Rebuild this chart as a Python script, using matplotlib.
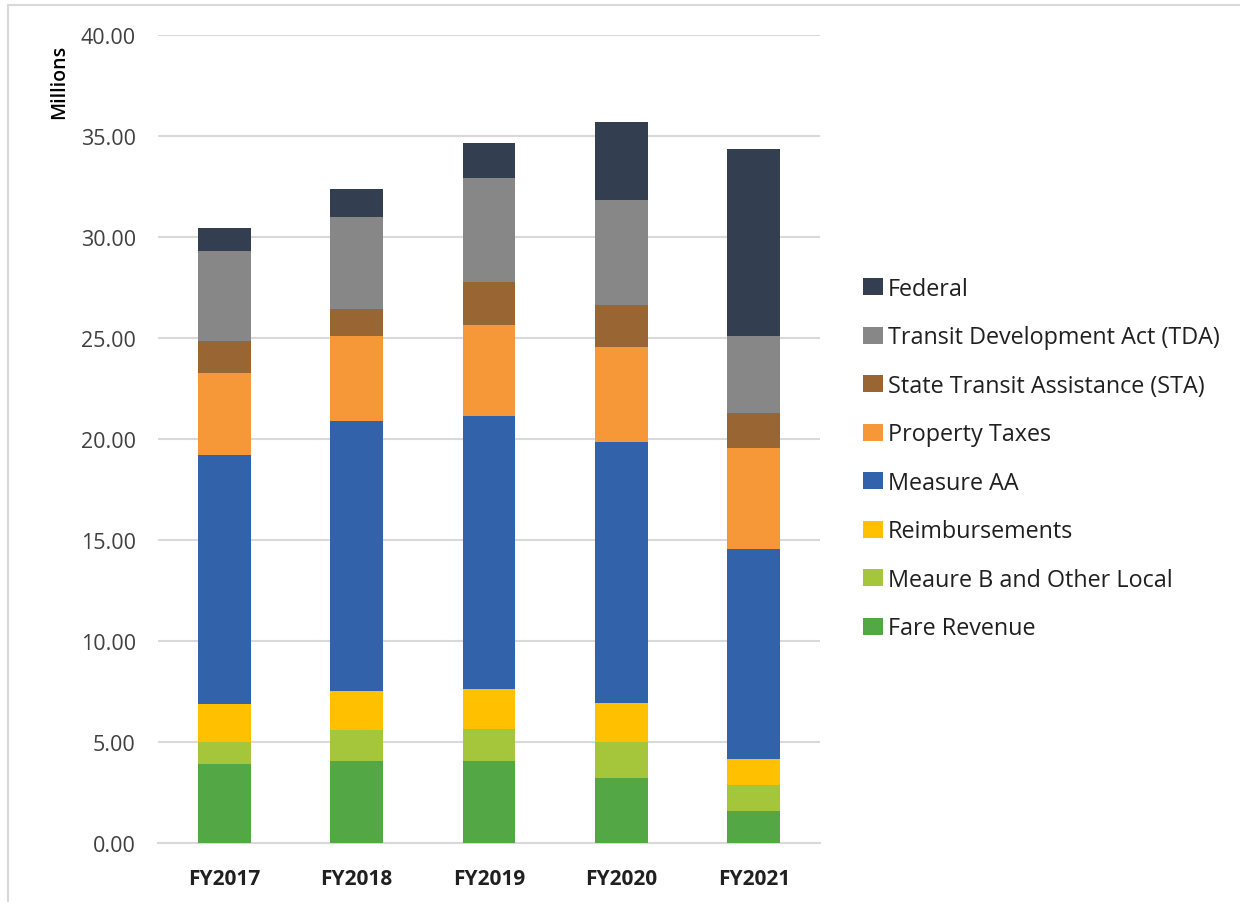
import numpy as np
import matplotlib
matplotlib.use('Agg')
import matplotlib.pyplot as plt
from matplotlib.patches import Rectangle

years = ['FY2017', 'FY2018', 'FY2019', 'FY2020', 'FY2021']
series_names = ['Fare Revenue', 'Meaure B and Other Local', 'Reimbursements',
                'Measure AA', 'Property Taxes', 'State Transit Assistance (STA)',
                'Transit Development Act (TDA)', 'Federal']
fare = [3.93, 4.06, 4.06, 3.23, 1.60]
measure_b = [1.07, 1.51, 1.58, 1.77, 1.25]
reimb = [1.87, 1.97, 1.97, 1.92, 1.30]
measure_aa = [12.35, 13.33, 13.53, 12.95, 10.40]
property_tax = [4.06, 4.24, 4.49, 4.68, 5.02]
sta = [1.59, 1.33, 2.14, 2.10, 1.73]
tda = [4.42, 4.56, 5.15, 5.20, 3.78]
federal = [1.16, 1.36, 1.71, 3.84, 9.30]
colors = ['#54A745', '#A5C63B', '#FFC000', '#3162AA', '#F79838', '#996633',
          '#878787', '#333F50']

plt.rcParams['font.family'] = ['Open Sans', 'DejaVu Sans']

fig = plt.figure(figsize=(12.4, 9.03), dpi=100)
ax = fig.add_axes([158/1240, 1-844/903, (820-158)/1240, (844-36)/903])

x = np.arange(len(years))
bottom = np.zeros(len(years))
handles = []
for name, vals, c in zip(series_names,
                         [fare, measure_b, reimb, measure_aa, property_tax, sta, tda, federal],
                         colors):
    b = ax.bar(x, vals, 0.4, bottom=bottom, color=c, label=name, zorder=3)
    handles.append(b)
    bottom += np.array(vals)

ax.set_xlim(-0.5, 4.5)
ax.set_ylim(0, 40)
ax.set_yticks(np.arange(0, 41, 5))
ax.set_yticklabels(['%.2f' % v for v in np.arange(0, 41, 5)], fontsize=15.5, color='#404040')
ax.set_xticks(x)
ax.set_xticklabels(years, fontsize=15, fontweight='bold', color='#202020')
ax.tick_params(length=0)
ax.tick_params(axis='y', pad=16)
ax.tick_params(axis='x', pad=18)
ax.grid(axis='y', color='#d9d9d9', linewidth=1.5, zorder=0)
for s in ['top', 'right', 'left']:
    ax.spines[s].set_visible(False)
ax.spines['bottom'].set_color('#d9d9d9')
ax.spines['bottom'].set_linewidth(1.5)

fig.text(59/1240, 1-82/903, 'Millions', rotation=90, ha='center', va='center',
         fontsize=14, fontweight='semibold', color='black')

leg = fig.legend(handles[::-1], series_names[::-1], loc='upper left',
                 bbox_to_anchor=(842/1240, 1-257/903), frameon=False,
                 fontsize=16.8, handlelength=0.85, handleheight=0.75,
                 labelspacing=1.05, handletextpad=0.2)
for t in leg.get_texts():
    t.set_color('#202020')

fig.patches.append(Rectangle((8/1240, -0.1), 1.2, 1-6/903 + 0.1,
                             transform=fig.transFigure, fill=False,
                             edgecolor='#d9d9d9', linewidth=1.5))

fig.savefig('out.png', dpi=100, facecolor='white')
